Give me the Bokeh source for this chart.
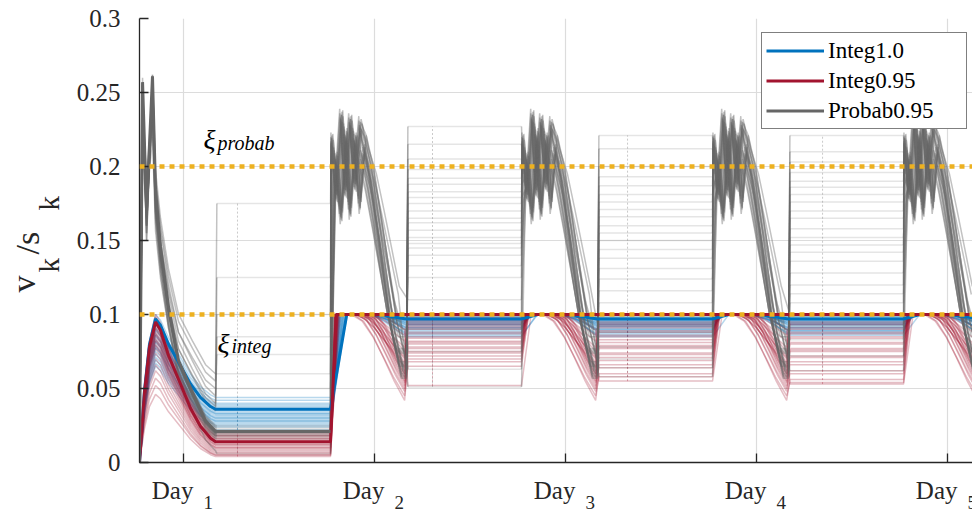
import numpy as np
from bokeh.plotting import figure
from bokeh.layouts import row, column
from bokeh.models import Label, Legend, LegendItem, FixedTicker, Span
from bokeh.core.properties import value
from bokeh.embed import file_html
from bokeh.resources import INLINE

# ---------------- data ----------------
cycle_start = [0.770, 1.770, 2.770, 3.770, 4.770]      # days
x_min, x_max = 0.770, 5.131
day_ticks = [1, 2, 3, 4, 5]
day_labels = ["1", "2", "3", "4", "5"]
y_ticks = [0.0, 0.05, 0.10, 0.15, 0.20, 0.25, 0.30]
y_tick_labels = ["0", "0.05", "0.1", "0.15", "0.2", "0.25", "0.3"]
xi_integ = 0.1
xi_probab = 0.2
active_end = 0.398          # offset (days) where the active phase ends
hold_start = 0.405          # offset (days) where the held value begins
blip_t = [1.283, 2.304, 3.325, 4.346]

# first-day transient shapes (offsets in days)
g0_t = [0.000, 0.016, 0.037, 0.068, 0.084, 0.110, 0.152, 0.204, 0.277, 0.346, 0.398]
g0_decay = [1.00, 0.68, 0.52, 0.35, 0.20, 0.11, 0.03, 0.00]
i0_t = [0.000, 0.026, 0.052, 0.084, 0.110, 0.152, 0.215, 0.267, 0.319, 0.372, 0.398]
i0_rise = [0.0, 0.50, 0.82]
i0_decay = [1.00, 0.93, 0.72, 0.48, 0.28, 0.13, 0.03, 0.00]

# later-day shapes
saw_t = [0.008, 0.016, 0.042, 0.068, 0.089, 0.115, 0.141, 0.168]
saw_v = [0.195, 0.213, 0.175, 0.229, 0.178, 0.226, 0.182, 0.224]
g_fall_t = [0.00, 0.04, 0.08, 0.12, 0.16, 0.205]
g_fall_f = [0.00, 0.15, 0.37, 0.60, 0.83, 1.00]
s_rel = [0.0, 0.2, 0.4, 0.6, 0.8, 1.0]
s_frac = [0.0, 0.08, 0.27, 0.52, 0.78, 1.0]

# ---- Probab0.95 members ----
gray0_spike = [0.257, 0.250, 0.240, 0.230, 0.255, 0.245, 0.220, 0.235, 0.250, 0.210, 0.240, 0.257,
               0.200, 0.230, 0.245, 0.250, 0.260, 0.240, 0.250, 0.230, 0.220, 0.255, 0.240, 0.235]
gray0_dip = [0.165, 0.150, 0.180, 0.170, 0.160, 0.190, 0.175, 0.155, 0.170, 0.185, 0.160, 0.150,
             0.175, 0.165, 0.180, 0.170, 0.160, 0.190, 0.155, 0.170, 0.180, 0.165, 0.175, 0.160]
gray0_peak = [0.261, 0.255, 0.250, 0.245, 0.260, 0.240, 0.235, 0.250, 0.258, 0.230, 0.245, 0.262,
              0.220, 0.240, 0.250, 0.255, 0.260, 0.250, 0.257, 0.240, 0.230, 0.262, 0.245, 0.250]
gray0_end = [0.021, 0.019, 0.023, 0.020, 0.018, 0.022, 0.017, 0.024, 0.020, 0.016, 0.025, 0.019,
             0.021, 0.018, 0.022, 0.020, 0.045, 0.040, 0.055, 0.050, 0.038, 0.060, 0.035, 0.008]
gray_hold_d0 = [0.021, 0.019, 0.023, 0.020, 0.018, 0.022, 0.017, 0.024, 0.020, 0.016, 0.025, 0.019,
                0.021, 0.018, 0.022, 0.020, 0.125, 0.073, 0.175, 0.050, 0.085, 0.060, 0.100, 0.006]
gray_hold_d1 = [0.227, 0.215, 0.205, 0.198, 0.192, 0.188, 0.183, 0.179, 0.175, 0.170, 0.165, 0.162,
                0.157, 0.152, 0.148, 0.145, 0.140, 0.133, 0.125, 0.110, 0.090, 0.075, 0.063, 0.051]
gray_hold_d2 = [0.221, 0.212, 0.200, 0.193, 0.187, 0.181, 0.176, 0.171, 0.166, 0.160, 0.155, 0.150,
                0.144, 0.138, 0.131, 0.124, 0.116, 0.108, 0.098, 0.088, 0.078, 0.070, 0.064, 0.058]
gray_hold_d3 = [0.221, 0.210, 0.203, 0.196, 0.190, 0.186, 0.181, 0.176, 0.170, 0.165, 0.158, 0.152,
                0.147, 0.142, 0.136, 0.128, 0.120, 0.114, 0.108, 0.100, 0.092, 0.083, 0.072, 0.062]
gray_jit = [0.000, 0.012, -0.010, 0.018, -0.017, 0.006, -0.004, 0.015, -0.013, 0.020, -0.019, 0.003,
            -0.002, 0.009, -0.008, 0.016, -0.015, 0.011, -0.011, 0.019, -0.020, 0.005, -0.006, 0.013]
gray_off = [0.000, -0.008, 0.006, -0.012, 0.004, -0.004, 0.009, -0.010, 0.002, -0.006, 0.007, -0.002,
            0.005, -0.014, 0.008, -0.005, 0.003, -0.009, 0.006, -0.003, 0.010, -0.007, 0.001, -0.011]
gray_fall = [0.140, 0.141, 0.139, 0.142, 0.155, 0.156, 0.154, 0.157, 0.166, 0.167, 0.165, 0.168,
             0.176, 0.177, 0.175, 0.178, 0.188, 0.189, 0.187, 0.200, 0.150, 0.172, 0.183, 0.195]
gray_low = [0.075, 0.076, 0.074, 0.077, 0.066, 0.067, 0.065, 0.068, 0.058, 0.059, 0.057, 0.060,
            0.062, 0.063, 0.061, 0.064, 0.070, 0.071, 0.069, 0.100, 0.085, 0.090, 0.080, 0.095]

# ---- Integ1.0 members ----
blue0_peak = [0.100, 0.097, 0.095, 0.093, 0.091, 0.089, 0.087, 0.085, 0.083, 0.081, 0.079, 0.077,
              0.075, 0.073, 0.071, 0.069, 0.067, 0.065, 0.098, 0.094, 0.090, 0.086, 0.082, 0.078]
blue_hold_d0 = [0.044, 0.042, 0.040, 0.039, 0.038, 0.037, 0.036, 0.035, 0.034, 0.033, 0.032, 0.031,
                0.030, 0.029, 0.028, 0.027, 0.026, 0.024, 0.022, 0.036, 0.033, 0.030, 0.028, 0.025]
blue_hold_d1 = [0.100, 0.099, 0.098, 0.097, 0.096, 0.095, 0.094, 0.093, 0.092, 0.091, 0.090, 0.089,
                0.088, 0.087, 0.086, 0.085, 0.099, 0.097, 0.095, 0.093, 0.091, 0.098, 0.096, 0.094]
blue_hold_d2 = [0.099, 0.098, 0.097, 0.096, 0.095, 0.094, 0.093, 0.092, 0.091, 0.090, 0.089, 0.088,
                0.087, 0.086, 0.085, 0.100, 0.098, 0.096, 0.094, 0.092, 0.090, 0.097, 0.095, 0.093]
blue_hold_d3 = [0.100, 0.099, 0.098, 0.097, 0.096, 0.095, 0.094, 0.093, 0.092, 0.091, 0.090, 0.089,
                0.088, 0.087, 0.086, 0.099, 0.097, 0.095, 0.093, 0.091, 0.089, 0.098, 0.096, 0.094]
blue_rise = [0.089, 0.082, 0.076, 0.070, 0.065, 0.060, 0.055, 0.050, 0.046, 0.042, 0.038, 0.034,
             0.030, 0.027, 0.085, 0.079, 0.072, 0.067, 0.062, 0.057, 0.052, 0.048, 0.044, 0.040]
blue_fall = [0.18, 0.20, 0.22, 0.24, 0.19, 0.21, 0.23, 0.25, 0.17, 0.20, 0.22, 0.26,
             0.18, 0.21, 0.23, 0.19, 0.24, 0.20, 0.22, 0.18, 0.25, 0.21, 0.19, 0.23]

# ---- Integ0.95 members ----
red0_peak = [0.100, 0.098, 0.096, 0.094, 0.092, 0.090, 0.088, 0.086, 0.084, 0.082, 0.080, 0.077,
             0.074, 0.070, 0.066, 0.062, 0.057, 0.052, 0.046, 0.095, 0.091, 0.087, 0.083, 0.079]
red_hold_d0 = [0.021, 0.020, 0.019, 0.018, 0.017, 0.016, 0.015, 0.014, 0.013, 0.012, 0.011, 0.010,
               0.009, 0.008, 0.007, 0.006, 0.005, 0.005, 0.004, 0.018, 0.016, 0.014, 0.012, 0.010]
red_hold_d1 = [0.080, 0.068, 0.072, 0.075, 0.078, 0.082, 0.085, 0.088, 0.090, 0.092, 0.094, 0.096,
               0.065, 0.070, 0.074, 0.077, 0.081, 0.084, 0.087, 0.091, 0.093, 0.095, 0.098, 0.052]
red_hold_d2 = [0.078, 0.060, 0.066, 0.071, 0.074, 0.079, 0.083, 0.086, 0.089, 0.091, 0.093, 0.095,
               0.058, 0.064, 0.069, 0.073, 0.077, 0.081, 0.085, 0.088, 0.092, 0.094, 0.097, 0.055]
red_hold_d3 = [0.076, 0.056, 0.062, 0.068, 0.072, 0.077, 0.081, 0.085, 0.088, 0.090, 0.093, 0.095,
               0.054, 0.060, 0.066, 0.071, 0.075, 0.080, 0.084, 0.087, 0.091, 0.094, 0.097, 0.053]
red_rise = [0.020, 0.025, 0.030, 0.035, 0.040, 0.022, 0.027, 0.032, 0.037, 0.045, 0.024, 0.029,
            0.034, 0.039, 0.021, 0.026, 0.031, 0.036, 0.042, 0.023, 0.028, 0.033, 0.038, 0.050]
red_fall = [0.17, 0.12, 0.14, 0.16, 0.18, 0.20, 0.22, 0.13, 0.15, 0.17, 0.19, 0.21,
            0.11, 0.14, 0.16, 0.18, 0.20, 0.23, 0.12, 0.15, 0.17, 0.19, 0.21, 0.24]
red_min = [0.060, 0.042, 0.048, 0.052, 0.055, 0.058, 0.062, 0.065, 0.068, 0.070, 0.072, 0.075,
           0.045, 0.050, 0.054, 0.057, 0.060, 0.064, 0.067, 0.071, 0.078, 0.082, 0.086, 0.090]

# nominal (thick) trajectories
gray_main = dict(spike=0.257, dip=0.170, peak=0.261, end0=0.021, holds=[0.021])
blue_main = dict(peak=0.097, end0=0.036, holds=[0.036, 0.097, 0.097, 0.097], rise=0.085, fall=0.22)
red_main = dict(peak=0.095, end0=0.014, holds=[0.014, 0.100, 0.100, 0.100], rise=0.030, fall=1.0)

BLUE, RED, GRAY, ORANGE, AX = "#0072BD", "#A2142F", "#666666", "#EDB120", "#262626"
FONT = "Liberation Serif"
LEFT_STRIP = 72                 # width of the y-label strip
MAIN_BORDER = 139 - LEFT_STRIP  # left border of the main plot


def gray_pieces(spike, dip, peak, end0, holds, jit=0.0, off=0.0, fall=0.17, low=0.06, ncyc=5):
    """Returns the active pieces (one per day) and the held pieces separately."""
    active, held = [], []
    c = cycle_start[0]
    xs = [c + t for t in g0_t] + [c + hold_start]
    ys = [0.0, spike, dip] + [end0 + (peak - end0) * f for f in g0_decay] + [holds[0]]
    active.append((xs, ys))
    h = holds[0]
    held.append(([c + hold_start, cycle_start[1]], [h, h]))
    for n in range(1, ncyc):
        c = cycle_start[n]
        xs, ys = [c], [h]
        for t, sv in zip(saw_t, saw_v):
            if t + jit < fall:
                xs.append(c + max(t + jit, 0.002)); ys.append(sv + off)
        v0 = 0.215 + off
        for t, f in zip(g_fall_t, g_fall_f):
            if fall + t <= active_end:
                xs.append(c + fall + t); ys.append(v0 - (v0 - low) * f)
        if fall + g_fall_t[-1] < active_end:
            xs.append(c + active_end); ys.append(low)
        if n < len(holds):
            h = holds[n]
            xs.append(c + hold_start); ys.append(h)
            held.append(([c + hold_start, cycle_start[n + 1]], [h, h]))
        active.append((xs, ys))
    return active, held


def integ_curve(peak, end0, holds, rise, fall, dip_end=active_end, low=None):
    xs, ys = [], []
    c = cycle_start[0]
    vals = [0.0, peak * i0_rise[1], peak * i0_rise[2]] + [end0 + (peak - end0) * f for f in i0_decay]
    xs += [c + t for t in i0_t]
    ys += vals
    h = holds[0]
    xs.append(c + hold_start); ys.append(h)
    for n in range(1, len(cycle_start)):
        c = cycle_start[n]
        xs.append(c); ys.append(h)
        xs.append(c + rise); ys.append(0.1)
        nxt = holds[n] if n < len(holds) else holds[-1]
        tgt = nxt if low is None else low
        if fall < dip_end:
            for r, f in zip(s_rel, s_frac):
                xs.append(c + fall + (dip_end - fall) * r); ys.append(0.1 - (0.1 - tgt) * f)
        else:
            xs.append(c + active_end); ys.append(0.1)
        xs.append(c + hold_start); ys.append(nxt)
        h = nxt
    return xs, ys


gray_holds = [gray_hold_d0, gray_hold_d1, gray_hold_d2, gray_hold_d3]
blue_holds = [blue_hold_d0, blue_hold_d1, blue_hold_d2, blue_hold_d3]
red_holds = [red_hold_d0, red_hold_d1, red_hold_d2, red_hold_d3]

gax, gay, ghx, ghy = [], [], [], []
for m in range(len(gray0_peak)):
    act, hld = gray_pieces(gray0_spike[m], gray0_dip[m], gray0_peak[m], gray0_end[m],
                           [d[m] for d in gray_holds], gray_jit[m], gray_off[m],
                           gray_fall[m], gray_low[m])
    for x, y in act:
        gax.append(x); gay.append(y)
    for x, y in hld:
        ghx.append(x); ghy.append(y)
bxs, bys, rxs, rys = [], [], [], []
for m in range(len(blue0_peak)):
    x, y = integ_curve(blue0_peak[m], blue_hold_d0[m], [d[m] for d in blue_holds],
                       blue_rise[m], blue_fall[m])
    bxs.append(x); bys.append(y)
for m in range(len(red0_peak)):
    x, y = integ_curve(red0_peak[m], red_hold_d0[m], [d[m] for d in red_holds],
                       red_rise[m], red_fall[m], dip_end=0.388, low=red_min[m])
    rxs.append(x); rys.append(y)

# ---------------- main plot ----------------
p = figure(width=972 - LEFT_STRIP, height=475, x_range=(x_min, x_max), y_range=(0, 0.3),
           output_backend="svg", toolbar_location=None,
           min_border_left=MAIN_BORDER, min_border_right=0, min_border_top=18, min_border_bottom=13)
p.outline_line_color = None

for ax in (p.xaxis[0], p.yaxis[0]):
    ax.axis_line_color = AX
    ax.axis_line_width = 1.3
    ax.major_tick_line_color = AX
    ax.major_tick_line_width = 1.3
    ax.major_tick_in = 9
    ax.major_tick_out = 0
    ax.minor_tick_line_color = None
    ax.major_label_text_font = FONT
    ax.major_label_text_color = AX
p.yaxis.major_label_text_font_size = "25px"
p.yaxis.ticker = FixedTicker(ticks=y_ticks)
p.yaxis.major_label_overrides = {t: l for t, l in zip(y_ticks, y_tick_labels)}
p.yaxis.major_label_standoff = 19
p.xaxis.ticker = FixedTicker(ticks=day_ticks)
p.xaxis.major_label_overrides = {t: "" for t in day_ticks}
p.xaxis.major_label_text_font_size = "1px"
p.xaxis.major_label_standoff = 0
p.grid.grid_line_color = "#dcdcdc"
p.grid.grid_line_width = 1.2

p.multi_line(xs=bxs, ys=bys, line_color=BLUE, line_alpha=0.28, line_width=1.5)
p.multi_line(xs=rxs, ys=rys, line_color=RED, line_alpha=0.28, line_width=1.5)
p.multi_line(xs=ghx, ys=ghy, line_color=GRAY, line_alpha=0.17, line_width=1.5)
p.multi_line(xs=gax, ys=gay, line_color=GRAY, line_alpha=0.4, line_width=1.5)

# small jitter marks inside the held phases
for n, tb in enumerate(blip_t):
    for holds, col in ((gray_holds, GRAY), (blue_holds, BLUE), (red_holds, RED)):
        p.segment(x0=[tb], y0=[min(holds[n])], x1=[tb], y1=[max(holds[n])],
                  line_color=col, line_alpha=0.35, line_width=1, line_dash="2 2")

x, y = integ_curve(**blue_main)
r_blue = p.line(x, y, line_color=BLUE, line_width=3)
x, y = integ_curve(**red_main)
r_red = p.line(x, y, line_color=RED, line_width=3)
act, hld = gray_pieces(ncyc=1, **gray_main)
r_gray = p.line(act[0][0] + hld[0][0], act[0][1] + hld[0][1], line_color=GRAY, line_width=3)

for lvl in (xi_integ, xi_probab):
    p.add_layout(Span(location=lvl, dimension="width", line_color=ORANGE,
                      line_width=4.5, line_dash="5 5"))


def lab(text, x, y, size, style="italic", x_offset=0):
    p.add_layout(Label(x=x, y=y, text=text, text_font=FONT, text_font_size=f"{size}px",
                       text_font_style=style, text_color="black", text_align="left",
                       text_baseline="alphabetic", x_offset=x_offset))


lab("\u03be", 1.105, 0.2181, 28)
lab("probab", 1.105, 0.2158, 20, x_offset=14)
lab("\u03be", 1.178, 0.0807, 28)
lab("integ", 1.178, 0.0784, 20, x_offset=14)

legend = Legend(items=[LegendItem(label="Integ1.0", renderers=[r_blue]),
                       LegendItem(label="Integ0.95", renderers=[r_red]),
                       LegendItem(label="Probab0.95", renderers=[r_gray])],
                location=(622, 333))
legend.label_text_font = FONT
legend.label_text_font_size = "23px"
legend.label_text_color = "black"
legend.border_line_color = "black"
legend.border_line_width = 1
legend.background_fill_alpha = 1
legend.padding = 4
legend.spacing = 3
legend.margin = 0
legend.glyph_width = 58
legend.glyph_height = 27
legend.label_height = 27
legend.label_width = 134
legend.label_standoff = 4
p.add_layout(legend)

# ---------------- y-axis label strip (v_k / s_k) ----------------
ylab = figure(width=LEFT_STRIP, height=513, x_range=(0, LEFT_STRIP), y_range=(0, 513),
              x_axis_type=None, y_axis_type=None, output_backend="svg", toolbar_location=None,
              min_border_left=0, min_border_right=0, min_border_top=0, min_border_bottom=0)
ylab.grid.visible = False
ylab.outline_line_color = None
ylab_parts = [("v", 23, 221, "34px"), ("k", 48, 241, "29px"), ("/s", 27, 259, "34px"), ("k", 48, 303, "29px")]
for t, xx, yy, fs in ylab_parts:
    ylab.text(x=[xx], y=[yy], text=[t], angle=np.pi / 2, text_font=value(FONT),
              text_font_size=fs, text_color=AX, text_align="left", text_baseline="alphabetic")

# ---------------- x tick-label strip (Day_k) ----------------
xlab = figure(width=972 - LEFT_STRIP, height=38, x_range=p.x_range, y_range=(0, 38),
              x_axis_type=None, y_axis_type=None, output_backend="svg", toolbar_location=None,
              min_border_left=MAIN_BORDER, min_border_right=0, min_border_top=0, min_border_bottom=0)
xlab.grid.visible = False
xlab.outline_line_color = None
xlab.text(x=day_ticks, y=[23] * len(day_ticks), text=["Day"] * len(day_ticks), x_offset=10,
          text_font=value(FONT), text_font_size="25px", text_color=AX,
          text_align="right", text_baseline="alphabetic")
xlab.text(x=day_ticks, y=[11] * len(day_ticks), text=day_labels, x_offset=20,
          text_font=value(FONT), text_font_size="19px", text_color=AX,
          text_align="left", text_baseline="alphabetic")

layout = row(ylab, column(p, xlab, spacing=0), spacing=0)
open("out.html", "w").write(file_html(layout, INLINE))
